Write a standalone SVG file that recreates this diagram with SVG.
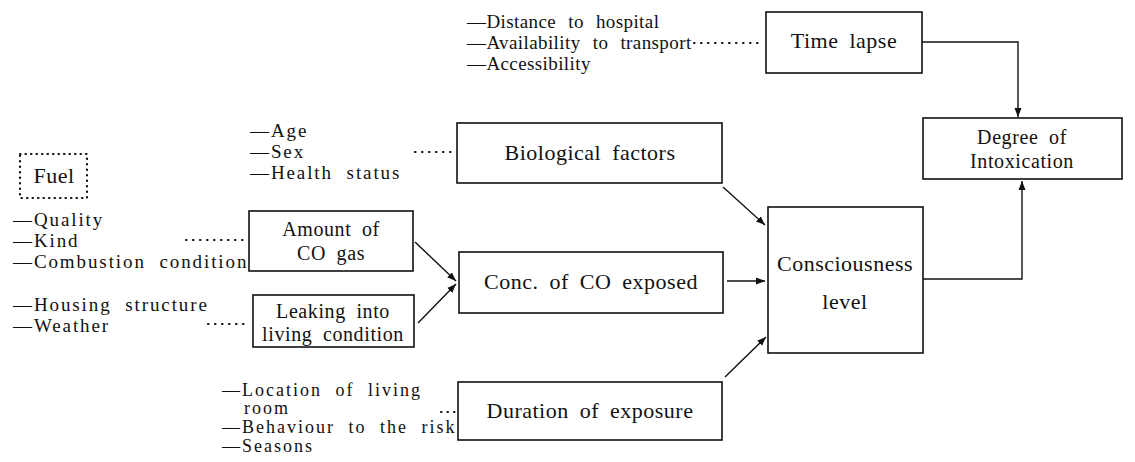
<svg xmlns="http://www.w3.org/2000/svg" width="1135" height="462" viewBox="0 0 1135 462" font-family="'Liberation Serif', 'DejaVu Serif', 'Times New Roman', serif">
<style>
text{font-family:'Liberation Serif','DejaVu Serif','Times New Roman',serif;fill:#111}
.n{font-size:22px;letter-spacing:0.5px;word-spacing:5px;text-anchor:middle}
.n2{font-size:20px;letter-spacing:0.6px;word-spacing:5px;text-anchor:middle}
.l{font-size:19px;letter-spacing:1.9px;word-spacing:7px}
.t{font-size:19px;letter-spacing:0.4px;word-spacing:7px}
.s{font-size:18px;letter-spacing:2px;word-spacing:7px}
.box{fill:none;stroke:#111;stroke-width:1.6}
.c{fill:none;stroke:#111;stroke-width:1.4}
.dot{fill:none;stroke:#111;stroke-width:2.2;stroke-dasharray:0.5 6.5;stroke-linecap:round}
</style>
<defs>
<marker id="ah" markerWidth="10" markerHeight="8" refX="9" refY="4" orient="auto" markerUnits="userSpaceOnUse">
<path d="M0,0.5 L9,4 L0,7.5 z" fill="#111"/>
</marker>
</defs>
<rect width="1135" height="462" fill="#fff"/>

<g id="fuel">
<rect x="20" y="154" width="67" height="44" fill="none" stroke="#111" stroke-width="2.2" stroke-dasharray="0.5 5" stroke-linecap="round"/>
<text class="n" x="54" y="183">Fuel</text>
</g>

<g id="fuel-list">
<text class="l" x="13" y="226">—Quality</text>
<text class="l" x="13" y="247">—Kind</text>
<text class="l" x="13" y="268">—Combustion condition</text>
</g>

<g id="housing-list">
<text class="l" x="13" y="311">—Housing structure</text>
<text class="l" x="13" y="332">—Weather</text>
</g>

<g id="bio-list">
<text class="l" x="250" y="137">—Age</text>
<text class="l" x="250" y="158">—Sex</text>
<text class="l" x="250" y="179">—Health status</text>
</g>

<g id="time-list">
<text class="t" x="467" y="28">—Distance to hospital</text>
<text class="t" x="467" y="49">—Availability to transport</text>
<text class="t" x="467" y="70">—Accessibility</text>
</g>

<g id="duration-list">
<text class="s" x="222" y="396">—Location of living</text>
<text class="s" x="244" y="414">room</text>
<text class="s" x="222" y="433">—Behaviour to the risk</text>
<text class="s" x="222" y="452">—Seasons</text>
</g>

<g id="time-lapse">
<rect class="box" x="766" y="12" width="156" height="61"/>
<text class="n" x="844" y="48">Time lapse</text>
</g>

<g id="degree">
<rect class="box" x="923" y="118" width="199" height="61"/>
<text class="n2" x="1022" y="144">Degree of</text>
<text class="n2" x="1022" y="168">Intoxication</text>
</g>

<g id="biological">
<rect class="box" x="457" y="123" width="265" height="60"/>
<text class="n" x="590" y="160">Biological factors</text>
</g>

<g id="amount">
<rect class="box" x="249" y="211" width="164" height="60"/>
<text class="n2" x="331" y="236">Amount of</text>
<text class="n2" x="331" y="260">CO gas</text>
</g>

<g id="leaking">
<rect class="box" x="253" y="295" width="161" height="52"/>
<text class="n2" x="333" y="318">Leaking into</text>
<text class="n2" x="333" y="341">living condition</text>
</g>

<g id="conc">
<rect class="box" x="459" y="252" width="264" height="61"/>
<text class="n" x="591" y="289">Conc. of CO exposed</text>
</g>

<g id="consciousness">
<rect class="box" x="768" y="207" width="155" height="146"/>
<text class="n" x="845" y="271">Consciousness</text>
<text class="n" x="845" y="309">level</text>
</g>

<g id="duration">
<rect class="box" x="458" y="382" width="264" height="58"/>
<text class="n" x="590" y="418">Duration of exposure</text>
</g>

<g id="connectors">
<line class="dot" x1="694" y1="43" x2="762" y2="43"/>
<line class="dot" x1="415" y1="152" x2="452" y2="152"/>
<line class="dot" x1="186" y1="240" x2="246" y2="240"/>
<line class="dot" x1="208" y1="324" x2="248" y2="324"/>
<line class="dot" x1="441" y1="412" x2="455" y2="412" style="stroke-dasharray:0.5 6"/>
<line class="c" x1="415" y1="242" x2="456" y2="281" marker-end="url(#ah)"/>
<line class="c" x1="418" y1="323" x2="456" y2="284" marker-end="url(#ah)"/>
<line class="c" x1="723" y1="187" x2="765" y2="225" marker-end="url(#ah)"/>
<line class="c" x1="727" y1="281" x2="765" y2="281" marker-end="url(#ah)"/>
<line class="c" x1="725" y1="377" x2="766" y2="337" marker-end="url(#ah)"/>
<polyline class="c" points="922,42 1018,42 1018,117" marker-end="url(#ah)"/>
<polyline class="c" points="923,279 1022,279 1022,181" marker-end="url(#ah)"/>
</g>
</svg>
